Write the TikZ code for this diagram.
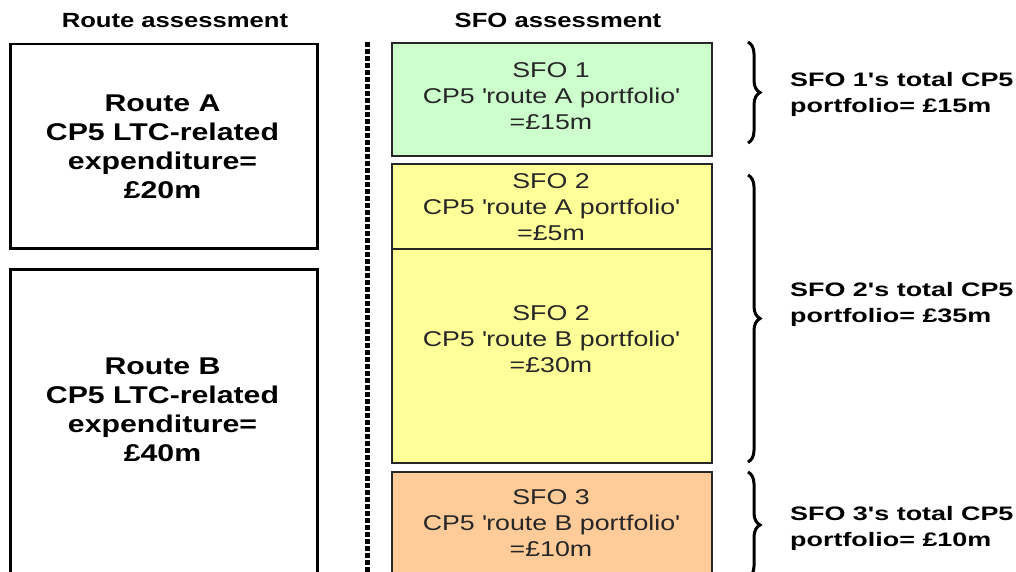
\documentclass[tikz,border=0pt]{standalone}
\usepackage{fontspec}
\setmainfont{Liberation Sans}[FakeStretch=1.25]
\newfontfamily\labfont{Liberation Sans}[FakeStretch=1.38]
\usetikzlibrary{decorations.pathreplacing}
\definecolor{sfogreen}{HTML}{CCFFCC}
\definecolor{sfoyellow}{HTML}{FFFF99}
\definecolor{sfoorange}{HTML}{FFCC99}
\tikzset{
  routebox/.style={draw=black, line width=2.5pt, inner sep=0pt, anchor=north west, minimum width=307pt},
  sfobox/.style={draw=black!85, line width=1.8pt, inner sep=0pt, anchor=north west, minimum width=320pt},
  hdr/.style={font=\fontsize{20.5}{24}\selectfont\bfseries, anchor=base, inner sep=0pt},
  rtext/.style={font=\fontsize{24.2}{29}\selectfont\bfseries, align=center, anchor=base, inner sep=0pt},
  stext/.style={font=\fontsize{21.4}{26}\selectfont, align=center, anchor=base, inner sep=0pt, text=black!85},
  ltext/.style={font=\labfont\fontsize{19.5}{26}\selectfont\bfseries, align=left, anchor=base west, inner sep=0pt},
  brc/.style={decorate, decoration={brace, amplitude=12pt}, line width=3pt},
  divider/.style={draw=black, line width=5pt, dash pattern=on 5pt off 2pt}
}
\begin{document}
\begin{tikzpicture}[x=1pt,y=-1pt]
\useasboundingbox (0,0) rectangle (1016,572);
\clip (0,0) rectangle (1016,572);
\fill[white] (0,0) rectangle (1016,572);
% headers
\node[hdr] (hdrA) at (175,28) {Route assessment};
\node[hdr] (hdrS) at (558,28) {SFO assessment};
% route boxes
\node[routebox, minimum height=204pt] (ra) at (9,43) {};
\node[routebox, minimum height=330pt] (rb) at (9,268) {};
\node[rtext] (rtA) at (162.5,198) {Route A\\CP5 LTC-related\\expenditure=\\£20m};
\node[rtext] (rtB) at (162.5,461) {Route B\\CP5 LTC-related\\expenditure=\\£40m};
% divider
\coordinate (dtop) at (367,42);
\coordinate (dbot) at (367,575);
\draw[divider] (dtop) -- (dbot);
% SFO boxes
\node[sfobox, fill=sfogreen, minimum height=113pt] (s1box) at (391,42) {};
\node[sfobox, fill=sfoyellow, minimum height=85pt] (s2abox) at (391,163) {};
\node[sfobox, fill=sfoyellow, minimum height=214pt] (s2bbox) at (391,248) {};
\node[sfobox, fill=sfoorange, minimum height=130pt] (s3box) at (391,471) {};
\node[stext] (s1) at (551,130) {SFO 1\\CP5 \textquotesingle route A portfolio\textquotesingle\\=£15m};
\node[stext] (s2a) at (551,240) {SFO 2\\CP5 \textquotesingle route A portfolio\textquotesingle\\=£5m};
\node[stext] (s2b) at (551,372) {SFO 2\\CP5 \textquotesingle route B portfolio\textquotesingle\\=£30m};
\node[stext] (s3) at (551,556) {SFO 3\\CP5 \textquotesingle route B portfolio\textquotesingle\\=£10m};
% braces
\coordinate (b1t) at (748,42);
\coordinate (b1b) at (748,143);
\coordinate (b2t) at (748,175);
\coordinate (b2b) at (748,462);
\coordinate (b3t) at (748,472);
\coordinate (b3b) at (748,578);
\draw[brc] (b1t) -- (b1b);
\draw[brc] (b2t) -- (b2b);
\draw[brc] (b3t) -- (b3b);
% labels
\node[ltext] (l1) at (790,113) {SFO 1's total CP5\\portfolio= £15m};
\node[ltext] (l2) at (790,322) {SFO 2's total CP5\\portfolio= £35m};
\node[ltext] (l3) at (790,546) {SFO 3's total CP5\\portfolio= £10m};
\end{tikzpicture}
\end{document}
